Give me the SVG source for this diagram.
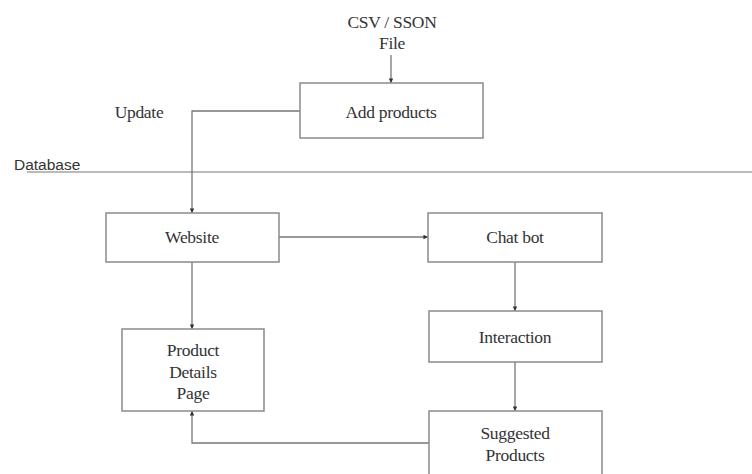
<svg xmlns="http://www.w3.org/2000/svg" width="752" height="474" viewBox="0 0 752 474">
<defs>
<style>
.box{fill:#fff;stroke:#8a8a8a;stroke-width:1.5}
.t{font-family:"Liberation Serif","Times New Roman",serif;font-size:17.5px;fill:#333;text-anchor:middle;dominant-baseline:central;letter-spacing:-0.3px}
.c{fill:none;stroke:#777;stroke-width:1.3}
</style>
<marker id="a" viewBox="0 0 6 6" refX="6" refY="3" markerWidth="3.5" markerHeight="3.5" orient="auto"><path d="M0,0 L6,3 L0,6 Z" fill="#333"/></marker>
</defs>
<rect width="752" height="474" fill="#fff"/>
<text x="392" y="22" class="t">CSV / SSON</text>
<text x="392" y="43" class="t">File</text>
<text x="139" y="112" class="t">Update</text>
<text x="14" y="164" font-family="Liberation Sans,Arial,sans-serif" font-size="15.5" fill="#333" dominant-baseline="central">Database</text>
<line x1="27" y1="172" x2="752" y2="172" stroke="#777" stroke-width="1.2"/>
<g id="connectors">
<path class="c" d="M391,55 V83" marker-end="url(#a)"/>
<path class="c" d="M300,111 H192 V213" marker-end="url(#a)"/>
<path class="c" d="M279,237 H428" marker-end="url(#a)"/>
<path class="c" d="M192,262 V329" marker-end="url(#a)"/>
<path class="c" d="M515,262 V311" marker-end="url(#a)"/>
<path class="c" d="M515,362 V411" marker-end="url(#a)"/>
<path class="c" d="M429,443 H192 V411" marker-end="url(#a)"/>
</g>
<g id="add-products"><rect class="box" x="300" y="83" width="183" height="55"/><text x="391" y="112" class="t">Add products</text></g>
<g id="website"><rect class="box" x="106" y="213" width="173" height="49"/><text x="192" y="237" class="t">Website</text></g>
<g id="chat-bot"><rect class="box" x="428" y="213" width="174" height="49"/><text x="515" y="237" class="t">Chat bot</text></g>
<g id="product-details"><rect class="box" x="122" y="329" width="142" height="82"/><text x="193" y="350" class="t">Product</text><text x="193" y="372" class="t">Details</text><text x="193" y="393" class="t">Page</text></g>
<g id="interaction"><rect class="box" x="429" y="311" width="173" height="51"/><text x="515" y="337" class="t">Interaction</text></g>
<g id="suggested"><rect class="box" x="429" y="411" width="173" height="70"/><text x="515" y="433" class="t">Suggested</text><text x="515" y="455" class="t">Products</text></g>
</svg>
